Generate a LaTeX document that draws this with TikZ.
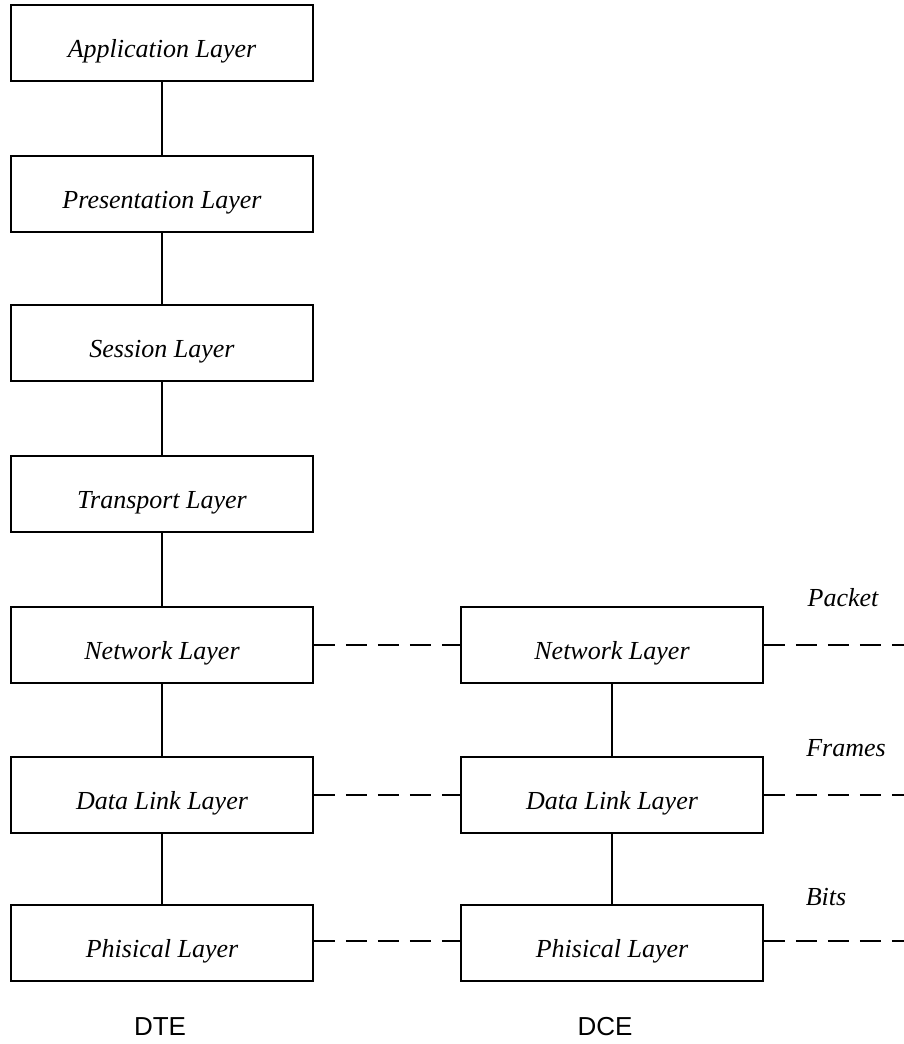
\documentclass[tikz,border=0pt]{standalone}
\usepackage{fontspec}
\setmainfont{Liberation Serif}
\setsansfont{Liberation Sans}
\begin{document}
\begin{tikzpicture}[x=1pt,y=-1pt,
  layer/.style={draw,line width=1.8pt,minimum width=302pt,minimum height=76pt,inner sep=0pt,text height=30pt,text depth=2pt,font=\fontsize{26}{30}\selectfont\itshape},
  link/.style={line width=1.4pt},
  peer/.style={line width=1.4pt,dash pattern=on 21pt off 11pt},
  tag/.style={font=\fontsize{26}{30}\selectfont\itshape,anchor=center},
  side/.style={font=\fontsize{26}{30}\sffamily}]
\useasboundingbox (0,0) rectangle (904,1044);
\node[layer] (app) at (162,43) {Application Layer};
\node[layer] (pre) at (162,194) {Presentation Layer};
\node[layer] (ses) at (162,343) {Session Layer};
\node[layer] (tra) at (162,494) {Transport Layer};
\node[layer] (net) at (162,645) {Network Layer};
\node[layer] (dll) at (162,795) {Data Link Layer};
\node[layer] (phy) at (162,943) {Phisical Layer};
\node[layer] (rnet) at (612,645) {Network Layer};
\node[layer] (rdll) at (612,795) {Data Link Layer};
\node[layer] (rphy) at (612,943) {Phisical Layer};
\draw[link] (app) -- (pre);
\draw[link] (pre) -- (ses);
\draw[link] (ses) -- (tra);
\draw[link] (tra) -- (net);
\draw[link] (net) -- (dll);
\draw[link] (dll) -- (phy);
\draw[link] (rnet) -- (rdll);
\draw[link] (rdll) -- (rphy);
\coordinate (enet) at (904,645);
\coordinate (edll) at (904,795);
\coordinate (ephy) at (904,941);
\draw[peer] (net.east) -- (rnet.west);
\draw[peer] (dll.east) -- (rdll.west);
\draw[peer] (phy.east |- ephy) -- (rphy.west |- ephy);
\draw[peer] (rnet.east) -- (enet);
\draw[peer] (rdll.east) -- (edll);
\draw[peer] (rphy.east |- ephy) -- (ephy);
\node[tag] (pk) at (843,598) {Packet};
\node[tag] (fr) at (846,748) {Frames};
\node[tag] (bt) at (826,897) {Bits};
\node[side] (dte) at (160,1027) {DTE};
\node[side] (dce) at (605,1027) {DCE};
\end{tikzpicture}
\end{document}
